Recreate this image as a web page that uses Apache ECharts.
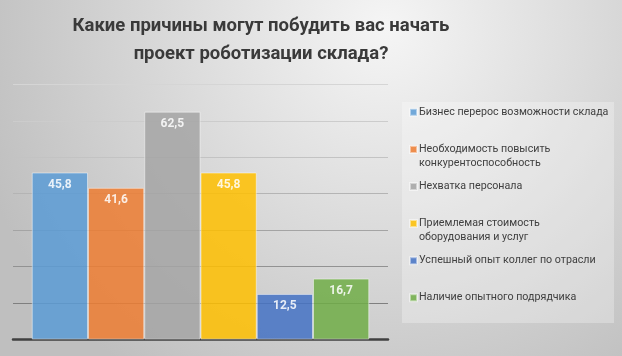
<!DOCTYPE html>
<html>
<head>
<meta charset="utf-8">
<script src="https://cdn.jsdelivr.net/npm/echarts@6/dist/echarts.min.js"></script>
<style>
html,body{margin:0;padding:0;}
#chart{width:622px;height:356px;}
</style>
</head>
<body>
<div id="chart"></div>
<script>
const titleText = 'Какие причины могут побудить вас начать\nпроект роботизации склада?';
const categories = [''];
const seriesNames = [
  'Бизнес перерос возможности склада',
  'Необходимость повысить конкурентоспособность',
  'Нехватка персонала',
  'Приемлемая стоимость оборудования и услуг',
  'Успешный опыт коллег по отрасли',
  'Наличие опытного подрядчика'
];
const legendLabels = [
  'Бизнес перерос возможности склада',
  'Необходимость повысить\nконкурентоспособность',
  'Нехватка персонала',
  'Приемлемая стоимость\nоборудования и услуг',
  'Успешный опыт коллег по отрасли',
  'Наличие опытного подрядчика'
];
const values = [45.8, 41.6, 62.5, 45.8, 12.5, 16.7];
const yMin = 0, yMax = 70, yStep = 10;

const palette = ['#5B9BD5', '#ED7D31', '#A5A5A5', '#FFC000', '#4472C4', '#70AD47'];
const FONT = 'Roboto';

const chart = echarts.init(document.getElementById('chart'), null, {renderer: 'canvas'});

const legendLineH = 14;
const legendTop0 = 112.3, legendStep = 37.1;
const legends = seriesNames.map((name, i) => {
  const lines = legendLabels[i].split('\n').length;
  const c = legendTop0 + legendStep * i;
  return {
    data: [name],
    orient: 'vertical',
    left: 409,
    top: lines > 1 ? c - legendLineH * 1.5 : c - legendLineH / 2,
    padding: 0,
    itemWidth: 7,
    itemHeight: 7,
    itemGap: 0,
    icon: 'rect',
    selectedMode: false,
    formatter: () => (lines > 1 ? ' \n' : '') + legendLabels[i],
    textStyle: {
      fontFamily: FONT,
      fontSize: 10.7,
      color: '#404040',
      lineHeight: legendLineH,
      padding: [0, 0, 0, -3]
    }
  };
});

const option = {
  backgroundColor: {
    type: 'radial', x: 0.62, y: 0.08, r: 1.2,
    colorStops: [
      {offset: 0, color: '#f5f5f5'},
      {offset: 1, color: '#bfbfbf'}
    ]
  },
  animation: false,
  title: {
    text: titleText,
    left: 261,
    top: 12,
    padding: 0,
    textAlign: 'center',
    textStyle: {
      fontFamily: FONT,
      fontSize: 18.5,
      fontWeight: 'bold',
      color: '#3a3a3a',
      lineHeight: 28
    }
  },
  graphic: [{
    type: 'rect',
    left: 402, top: 102,
    shape: {width: 212, height: 221},
    style: {fill: 'rgba(255,255,255,0.28)'},
    z: -1
  }],
  legend: legends,
  grid: {left: 13, right: 234, top: 84.3, bottom: 16.5, containLabel: false},
  xAxis: {
    type: 'category',
    data: categories,
    axisLine: {show: true, lineStyle: {color: '#404040', width: 2.5}},
    axisTick: {show: false},
    axisLabel: {show: false}
  },
  yAxis: {
    type: 'value',
    min: yMin, max: yMax, interval: yStep,
    axisLine: {show: false},
    axisTick: {show: false},
    axisLabel: {show: false},
    splitLine: {
      show: true,
      lineStyle: {
        width: 1,
        color: ['#404040', '#7f7f7f', '#929292', '#a4a4a4', '#b4b4b4', '#c3c3c3', '#cccccc', '#d5d5d5']
      }
    }
  },
  series: seriesNames.map((name, i) => ({
    name: name,
    type: 'bar',
    data: [values[i]],
    barGap: 0,
    barCategoryGap: '10%',
    itemStyle: {
      color: palette[i],
      opacity: 0.85,
      borderColor: 'rgba(255,255,255,0.55)',
      borderWidth: 1
    },
    label: {
      show: true,
      position: 'insideTop',
      distance: 6,
      formatter: p => String(p.value).replace('.', ','),
      fontFamily: FONT,
      fontSize: 12,
      fontWeight: 'bold',
      color: '#ffffff'
    }
  }))
};
chart.setOption(option);
</script>
</body>
</html>
